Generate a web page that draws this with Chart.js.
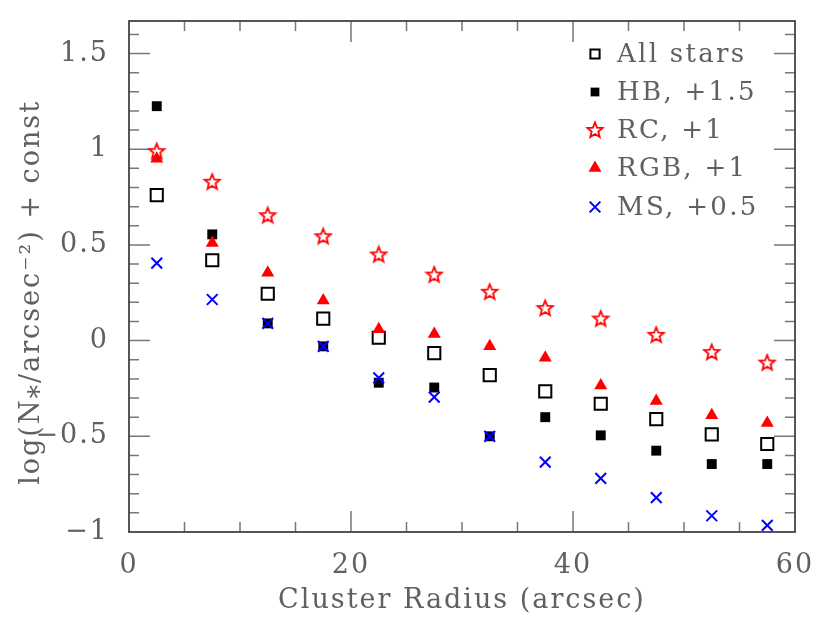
<!DOCTYPE html>
<html>
<head>
<meta charset="utf-8">
<script src="https://cdn.jsdelivr.net/npm/chart.js@4.4.1/dist/chart.umd.min.js"></script>
<style>
    html, body { margin: 0; padding: 0; background: #ffffff; }
    #wrap { width: 831px; height: 631px; }
</style>
</head>
<body>
<div id="wrap"><canvas id="profile"></canvas></div>
<script>
// radial bins (arcsec)
var radius = [2.5, 7.5, 12.5, 17.5, 22.5, 27.5, 32.5, 37.5, 42.5, 47.5, 52.5, 57.5];

// log surface density + offsets
var allStars = [0.76, 0.42, 0.245, 0.115, 0.015, -0.065, -0.18, -0.265, -0.33, -0.41, -0.49, -0.54];
var hb = [1.225, 0.555, 0.09, -0.03, -0.22, -0.245, -0.5, -0.4, -0.495, -0.575, -0.645, -0.645];
var rc = [0.99, 0.83, 0.655, 0.545, 0.45, 0.345, 0.255, 0.17, 0.115, 0.03, -0.06, -0.115];
var rgb = [0.95, 0.51, 0.355, 0.21, 0.06, 0.035, -0.03, -0.09, -0.235, -0.315, -0.39, -0.43];
var ms = [0.405, 0.215, 0.09, -0.03, -0.195, -0.295, -0.5, -0.635, -0.72, -0.82, -0.915, -0.965];

var seriesNames = ["All stars", "HB, +1.5", "RC, +1", "RGB, +1", "MS, +0.5"];
var xTicks = [0, 20, 40, 60];
var yTicks = [-1, -0.5, 0, 0.5, 1, 1.5];

var FONT = "'DejaVu Serif', serif";
var TEXT = "#606060";

// open five-point star marker
function makeStar() {
    var c = document.createElement("canvas");
    c.width = 20;
    c.height = 20;
    var g = c.getContext("2d");
    g.beginPath();
    for (var i = 0; i < 10; i++) {
        var r = i % 2 === 0 ? 8 : 3.5;
        var a = -Math.PI / 2 + i * Math.PI / 5;
        var px = 10 + r * Math.cos(a);
        var py = 10.5 + r * Math.sin(a);
        if (i === 0) g.moveTo(px, py); else g.lineTo(px, py);
    }
    g.closePath();
    g.fillStyle = "#ffffff";
    g.fill();
    g.strokeStyle = "#ff0000";
    g.lineWidth = 1.8;
    g.stroke();
    return c;
}
var starImg = makeStar();

function toXY(ys) {
    return ys.map((v, i) => ({ x: radius[i], y: v }));
}

// frame + inward ticks on all four sides, letter spacing for the text
var framePlugin = {
    id: "frame",
    beforeDraw(chart) {
        chart.ctx.letterSpacing = "2px";
    },
    beforeDatasetsDraw(chart) {
        var ctx = chart.ctx;
        var a = chart.chartArea;
        var xs = chart.scales.x;
        var ys = chart.scales.y;
        ctx.save();
        ctx.strokeStyle = "#777777";
        ctx.lineWidth = 1.5;
        ctx.beginPath();
        for (var v = 5; v < 60; v += 5) {
            var len = v % 20 === 0 ? 21 : 10;
            var px = xs.getPixelForValue(v);
            ctx.moveTo(px, a.bottom);
            ctx.lineTo(px, a.bottom - len);
            ctx.moveTo(px, a.top);
            ctx.lineTo(px, a.top + len);
        }
        for (var k = -9; k <= 16; k++) {
            var val = k / 10;
            var len2 = k % 5 === 0 ? 21 : 10;
            var py = ys.getPixelForValue(val);
            ctx.moveTo(a.left, py);
            ctx.lineTo(a.left + len2, py);
            ctx.moveTo(a.right, py);
            ctx.lineTo(a.right - len2, py);
        }
        ctx.stroke();
        ctx.strokeStyle = "#444444";
        ctx.lineWidth = 1.8;
        ctx.strokeRect(a.left, a.top, a.right - a.left, a.bottom - a.top);
        ctx.restore();
    },
    afterDraw(chart) {
        // legend in the upper right corner
        var ctx = chart.ctx;
        ctx.save();
        ctx.font = "26px " + FONT;
        ctx.fillStyle = TEXT;
        ctx.textBaseline = "middle";
        ctx.letterSpacing = "2.3px";
        var rows = [54, 92, 130, 168, 207];
        chart.data.datasets.forEach((ds, i) => {
            var opts = {
                pointStyle: ds.pointStyle,
                radius: ds.legendRadius,
                borderWidth: ds.borderWidth
            };
            ctx.save();
            ctx.fillStyle = ds.backgroundColor;
            ctx.strokeStyle = ds.borderColor;
            ctx.lineWidth = ds.borderWidth;
            Chart.helpers.drawPoint(ctx, opts, 595, rows[i]);
            ctx.restore();
            ctx.fillText(seriesNames[i], 617, rows[i] + 1);
        });
        ctx.restore();
    }
};

new Chart(document.getElementById("profile"), {
    type: "scatter",
    data: {
        datasets: [
            {
                label: seriesNames[0],
                data: toXY(allStars),
                pointStyle: "rect",
                pointRadius: 8.6,
                legendRadius: 6.5,
                backgroundColor: "#ffffff",
                borderColor: "#000000",
                borderWidth: 2,
                order: 4,
            },
            {
                label: seriesNames[1],
                data: toXY(hb),
                pointStyle: "rect",
                pointRadius: 7,
                legendRadius: 6.2,
                backgroundColor: "#000000",
                borderColor: "#000000",
                borderWidth: 0,
                order: 3,
            },
            {
                label: seriesNames[2],
                data: toXY(rc),
                pointStyle: starImg,
                pointRadius: 8,
                legendRadius: 8,
                backgroundColor: "#ff0000",
                borderColor: "#ff0000",
                borderWidth: 1.8,
                order: 2,
            },
            {
                label: seriesNames[3],
                data: toXY(rgb),
                pointStyle: "triangle",
                pointRadius: 7.5,
                legendRadius: 7.5,
                backgroundColor: "#ff0000",
                borderColor: "#ff0000",
                borderWidth: 0,
                order: 1,
            },
            {
                label: seriesNames[4],
                data: toXY(ms),
                pointStyle: "crossRot",
                pointRadius: 7.6,
                legendRadius: 7.6,
                backgroundColor: "#0000ff",
                borderColor: "#0000ff",
                borderWidth: 2,
                order: 0,
            },
        ],
    },
    options: {
        responsive: true,
        maintainAspectRatio: false,
        animation: false,
        layout: {
            padding: { left: 12, right: 36, top: 21, bottom: 0 },
        },
        scales: {
            x: {
                type: "linear",
                min: 0,
                max: 60,
                afterBuildTicks: (scale) => {
                    scale.ticks = xTicks.map((v) => ({ value: v }));
                },
                afterFit: (scale) => {
                    scale.height = 99;
                },
                grid: { display: false, drawTicks: false },
                border: { display: false },
                ticks: {
                    color: TEXT,
                    padding: 18,
                    maxRotation: 0,
                    font: { family: FONT, size: 27 },
                },
                title: {
                    display: true,
                    text: "Cluster Radius (arcsec)",
                    color: TEXT,
                    padding: { top: 0, bottom: 14 },
                    font: { family: FONT, size: 27 },
                },
            },
            y: {
                type: "linear",
                min: -1,
                max: 1.67,
                afterBuildTicks: (scale) => {
                    scale.ticks = yTicks.map((v) => ({ value: v }));
                },
                afterFit: (scale) => {
                    scale.width = 117;
                    scale.paddingTop = 0;
                    scale.paddingBottom = 0;
                },
                grid: { display: false, drawTicks: false },
                border: { display: false },
                ticks: {
                    color: TEXT,
                    padding: 20,
                    font: { family: FONT, size: 27 },
                    callback: (v) => (v < 0 ? "\u2212" + Math.abs(v) : String(v)),
                },
                title: {
                    display: true,
                    // trailing nbsp pushes the label a little down the axis
                    text: "log(N\u204E/arcsec\u207B\u00B2) + const\u00A0\u00A0\u00A0",
                    color: TEXT,
                    padding: { top: 4, bottom: 0 },
                    font: { family: FONT, size: 27 },
                },
            },
        },
        plugins: {
            legend: { display: false },
            tooltip: { enabled: false },
        },
    },
    plugins: [framePlugin],
});
</script>
</body>
</html>
